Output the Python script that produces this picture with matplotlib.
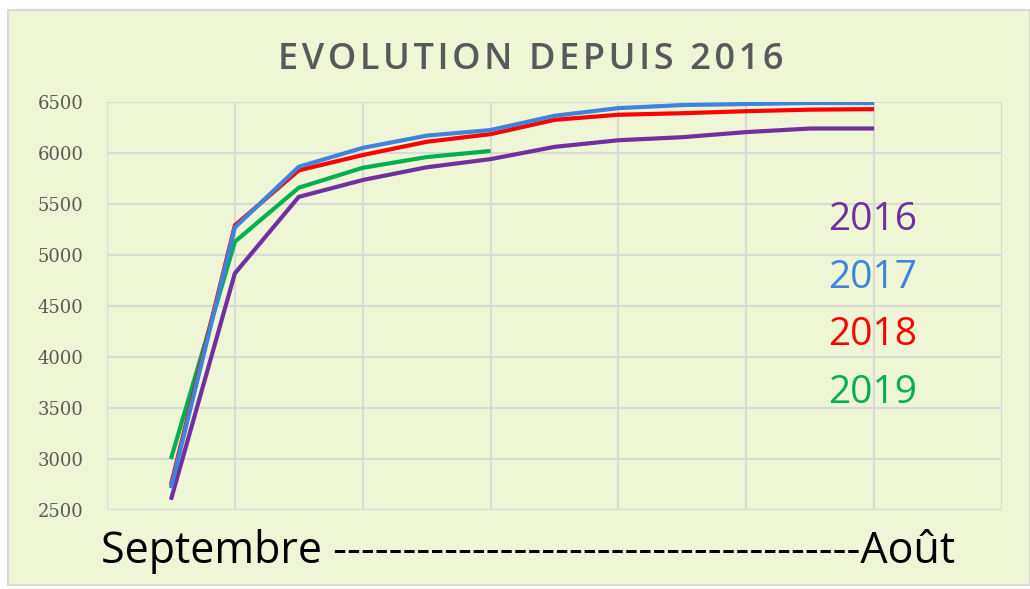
import numpy as np
import matplotlib.pyplot as plt
from matplotlib.patches import Rectangle

# valeurs mensuelles (septembre -> août)
mois = np.arange(1, 13)
v2016 = [2600, 4820, 5570, 5735, 5860, 5940, 6060, 6125, 6155, 6205, 6240, 6240]
v2017 = [2715, 5270, 5865, 6050, 6170, 6225, 6365, 6440, 6470, 6480, 6490, 6490]
v2018 = [2745, 5290, 5830, 5980, 6110, 6185, 6325, 6375, 6390, 6410, 6425, 6430]
v2019 = [3000, 5130, 5660, 5855, 5960, 6020]

annees = ['2016', '2017', '2018', '2019']
couleurs = ['#7030A0', '#3C84DC', '#FF0000', '#00B050']
series = [v2016, v2017, v2018, v2019]

W, H = 1030, 589
fig = plt.figure(figsize=(W/100, H/100), dpi=100)
fig.patch.set_facecolor('white')
fig.patches.append(Rectangle((8/W, 4/H), 1 - 8/W, 1 - 14/H, transform=fig.transFigure,
                             facecolor='#EEF6D6', edgecolor='#D9D9D9', lw=1.5, zorder=-1))

ax = fig.add_axes([107/W, 1 - 510/H, 895/W, 408/H])
ax.set_zorder(2)
ax.set_facecolor('none')

# ordre de tracé : 2016, 2019, 2018, 2017 au dessus
for i in [0, 3, 2, 1]:
    s = series[i]
    ax.plot(mois[:len(s)], s, color=couleurs[i], lw=3, solid_capstyle='butt', zorder=3)

ax.set_xlim(0, 14)
ax.set_ylim(2500, 6500)
ax.set_xticks(np.arange(0, 15, 2))
ax.set_yticks(np.arange(2500, 6501, 500))
ax.grid(True, color='#D9D9D9', lw=1.5)
ax.tick_params(length=0, labelbottom=False)
for lab in ax.get_yticklabels():
    lab.set_family('DejaVu Serif')
    lab.set_fontsize(13)
    lab.set_color('#595959')
ax.tick_params(axis='y', pad=17)
for sp in ax.spines.values():
    sp.set_visible(False)

titre = '\u200a'.join('EVOLUTION DEPUIS 2016')
fig.text(531/W, 1 - 60/H, titre, ha='center', va='center', fontsize=26,
         fontweight='semibold', color='#595959', family=['Open Sans', 'DejaVu Sans'])

for i, a in enumerate(annees):
    fig.text(828/W, 1 - [230, 288, 345, 403][i]/H, a, ha='left', va='baseline',
             fontsize=28, color=couleurs[i], family='Open Sans')

fig.text(101/W, 1 - 563/H, 'Septembre ' + '-' * 38 + 'Août', ha='left', va='baseline',
         fontsize=31, color='black', family='Open Sans')

fig.savefig('out.png', dpi=100)
